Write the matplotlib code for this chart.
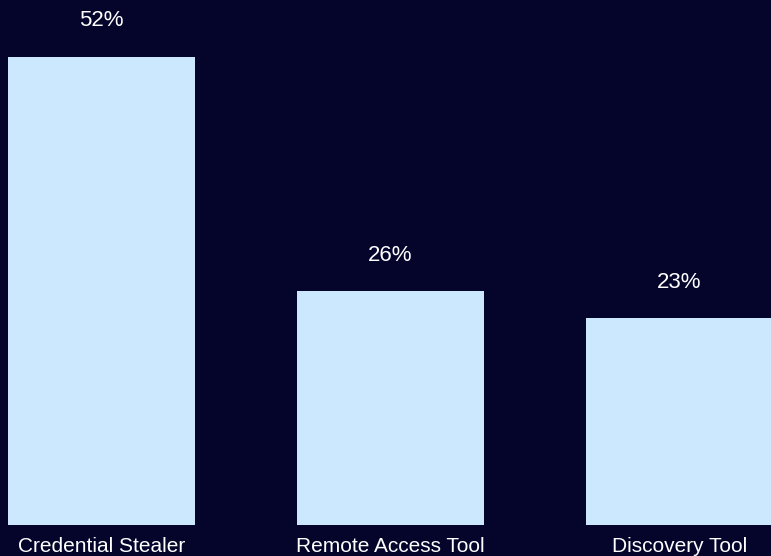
import matplotlib
matplotlib.use("Agg")
import matplotlib.pyplot as plt

categories = ["Credential Stealer", "Remote Access Tool", "Discovery Tool"]
shares = [52, 26, 23]
value_labels = ["52%", "26%", "23%"]

BG = "#05042b"
BAR = "#cce8ff"

plt.rcParams["font.family"] = ["Liberation Sans", "DejaVu Sans"]

fig = plt.figure(figsize=(7.71, 5.56), dpi=100, facecolor=BG)
ax = fig.add_axes([0, 0, 1, 1])
ax.set_facecolor(BG)

x = list(range(len(categories)))
ax.bar(x, shares, width=0.647, color=BAR, edgecolor="none")

for xi, v, lab in zip(x, shares, value_labels):
    ax.text(xi, v + 4.0, lab, ha="center", va="center",
            color="white", fontsize=16)

for xi, cat in zip(x, categories):
    ax.text(xi, -2.35, cat, ha="center", va="center",
            color="white", fontsize=15)

ax.set_xlim(-0.3512, 2.3166)
ax.set_ylim(-3.444, 58.333)
ax.axis("off")

fig.savefig("out.png", dpi=100, facecolor=BG)
